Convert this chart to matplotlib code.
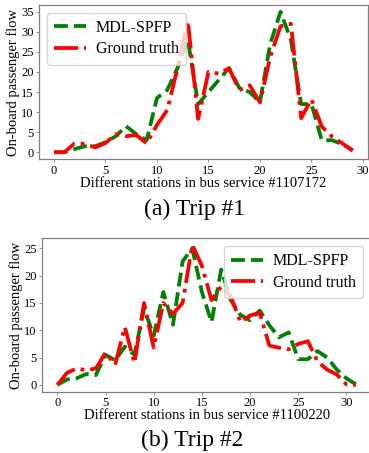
import matplotlib
matplotlib.use("Agg")
import matplotlib.pyplot as plt
import numpy as np

plt.rcParams['font.family'] = ['Liberation Serif', 'DejaVu Serif']

# Trip 1
t1_pred = [0, 0, 0.8, 1.5, 1.5, 2.5, 4, 6.5, 4.5, 3, 13.5, 15.5, 21, 28, 12, 15, 18, 21, 16, 15, 12.5, 27, 35, 28, 12, 12, 3, 3, 2, 0.5]
t1_true = [0, 0, 2.2, 2.1, 1.2, 2.3, 4.5, 4, 4.3, 2.2, 6.8, 10.5, 21, 32.7, 8.3, 20, 19.6, 20.9, 15.5, 16.7, 12.4, 23.8, 31.4, 32, 8.5, 13.2, 6.4, 3.9, 2.2, 0.4]
# Trip 2
t2_pred = [0, 1, 1.2, 2, 1.8, 5.5, 4.5, 7, 5.5, 14, 9, 17, 11, 22.6, 25, 17, 11.5, 21.1, 15.5, 12.8, 11.8, 13.6, 10.9, 8.7, 9.6, 4.7, 4.7, 6.2, 5, 2.8, 1.2, 0.1]
t2_true = [0, 2.2, 3, 2.7, 3, 5.9, 3.7, 10.6, 4, 15, 6.8, 15, 13, 15, 25.6, 21.8, 15.5, 18, 16.2, 11.5, 12.7, 13.2, 7.2, 6.8, 6.5, 7.5, 8, 4.3, 2.8, 1.9, 0.1, 0]

xlabels = ["Different stations in bus service #1107172", "Different stations in bus service #1100220"]
captions = ["(a) Trip #1", "(b) Trip #2"]
legend_labels = ["MDL-SPFP", "Ground truth"]

W, H = 369, 453
fig = plt.figure(figsize=(W / 100, H / 100), dpi=100)

def px(l, t, r, b):
    return [l / W, 1 - b / H, (r - l) / W, (b - t) / H]

ax1 = fig.add_axes(px(39, 4.7, 367.6, 159.3))
ax2 = fig.add_axes(px(42.4, 238, 371, 391.9))

specs = [
    (ax1, t1_pred, t1_true, xlabels[0], 'upper left', [0, 5, 10, 15, 20, 25, 30], [0, 5, 10, 15, 20, 25, 30, 35]),
    (ax2, t2_pred, t2_true, xlabels[1], 'upper right', [0, 5, 10, 15, 20, 25, 30], [0, 5, 10, 15, 20, 25]),
]
for ax, pred, true, xl, loc, xt, yt in specs:
    ax.plot(np.arange(len(pred)), pred, '--', color='green', lw=2.7, label=legend_labels[0])
    ax.plot(np.arange(len(true)), true, '-.', color='red', lw=2.7, label=legend_labels[1])
    ax.set_xticks(xt)
    ax.set_yticks(yt)
    ax.tick_params(labelsize=9, length=2.5, width=0.6, color='#808080', pad=1.5)
    for s in ax.spines.values():
        s.set_color('#808080')
        s.set_linewidth(0.9)
    ax.set_xlabel(xl, fontsize=10.5, labelpad=0)
    ax.set_ylabel("On-board passenger flow", fontsize=10.5, labelpad=1)
    ax.legend(loc=loc, fontsize=11.5, handlelength=2.0, borderpad=0.45, labelspacing=0.35,
              handletextpad=0.6, borderaxespad=0.5)

ax1.set_xlim(-1.45, 30.45)
ax2.set_xlim(-1.55, 32.55)

fig.text(195 / W, 1 - 209 / H, captions[0], ha='center', va='center', fontsize=17)
fig.text(192 / W, 1 - 440 / H, captions[1], ha='center', va='center', fontsize=17)

fig.savefig("out.png", dpi=100)
